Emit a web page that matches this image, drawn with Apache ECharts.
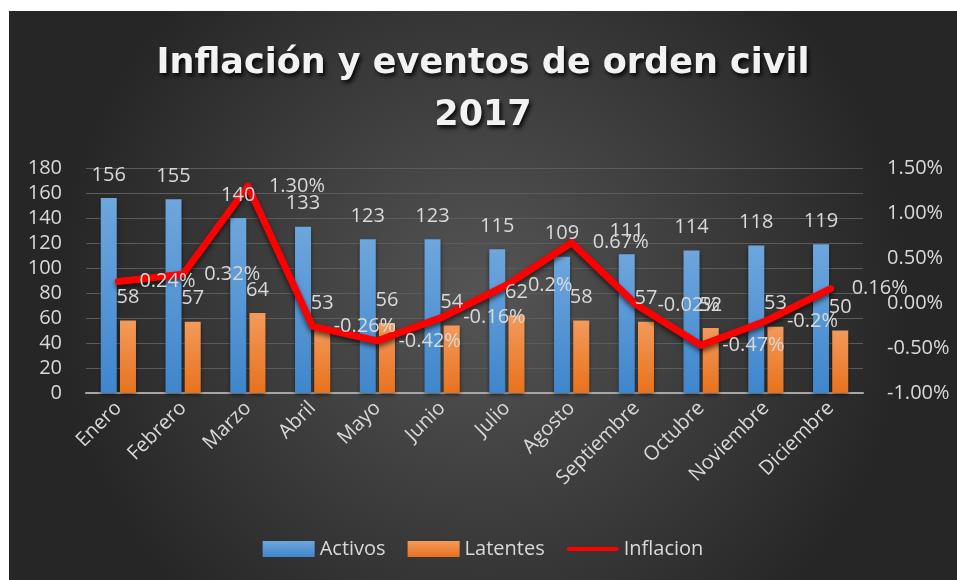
<!DOCTYPE html>
<html>
<head>
<meta charset="utf-8">
<style>
  html, body { margin: 0; padding: 0; background: #ffffff; }
  #chart { position: absolute; left: 9px; top: 11px; width: 948px; height: 569px; }
</style>
<script src="https://cdn.jsdelivr.net/npm/echarts@6/dist/echarts.min.js"></script>
</head>
<body>
<div id="chart"></div>
<script>
// datos
const meses = ['Enero', 'Febrero', 'Marzo', 'Abril', 'Mayo', 'Junio', 'Julio', 'Agosto', 'Septiembre', 'Octubre', 'Noviembre', 'Diciembre'];
const activos = [156, 155, 140, 133, 123, 123, 115, 109, 111, 114, 118, 119];
const latentes = [58, 57, 64, 53, 56, 54, 62, 58, 57, 52, 53, 50];
const inflacion = [0.24, 0.32, 1.30, -0.26, -0.42, -0.16, 0.2, 0.67, -0.02, -0.47, -0.2, 0.16];
const inflacionTexto = ['0.24%', '0.32%', '1.30%', '-0.26%', '-0.42%', '-0.16%', '0.2%', '0.67%', '-0.02%', '-0.47%', '-0.2%', '0.16%'];

const txt = '#d9d9d9';
const font = 'Open Sans';

let chart = echarts.init(document.getElementById('chart'));

const etiquetaBarra = { show: true, position: 'top', distance: 13, color: txt, fontSize: 20, fontFamily: font };

const option = {
    backgroundColor: {
        type: 'radial', x: 0.5, y: 0.5, r: 0.75,
        colorStops: [
            { offset: 0, color: '#555555' },
            { offset: 1, color: '#262626' }
        ]
    },
    title: {
        text: 'Inflación y eventos de orden civil\n2017',
        left: 'center',
        top: 22,
        textStyle: {
            color: '#f2f2f2',
            fontFamily: 'DejaVu Sans',
            fontWeight: 'bold',
            fontSize: 35,
            lineHeight: 52,
            textShadowColor: 'rgba(0,0,0,0.9)',
            textShadowBlur: 4,
            textShadowOffsetX: 2,
            textShadowOffsetY: 3
        }
    },
    legend: {
        bottom: 16,
        left: 'center',
        itemWidth: 52,
        itemHeight: 16,
        itemGap: 22,
        textStyle: { color: txt, fontSize: 20, fontFamily: font },
        data: [
            { name: 'Activos', icon: 'rect' },
            { name: 'Latentes', icon: 'rect' },
            { name: 'Inflacion', icon: 'path://M4,0 L96,0 A4,4 0 0 1 96,8 L4,8 A4,4 0 0 1 4,0 Z', itemStyle: { color: '#ff0000' } }
        ]
    },
    grid: { left: 77, right: 94, top: 157, bottom: 187 },
    xAxis: [
        {
            type: 'category',
            data: meses,
            axisTick: { show: false },
            axisLine: { lineStyle: { color: '#a6a6a6', width: 2 } },
            axisLabel: { color: txt, fontSize: 20, fontFamily: font, rotate: 45, interval: 0, margin: 12 }
        },
        {
            // eje oculto: solo para dibujar las etiquetas de las barras encima de la linea
            type: 'category',
            data: meses,
            show: false
        }
    ],
    yAxis: [
        {
            type: 'value',
            min: 0, max: 180, interval: 20,
            axisLine: { show: false },
            axisTick: { show: false },
            splitLine: { lineStyle: { color: '#5c5c5c', width: 1 } },
            axisLabel: { color: txt, fontSize: 20, fontFamily: font, margin: 24 }
        },
        {
            type: 'value',
            min: -1, max: 1.5, interval: 0.5,
            axisLine: { show: false },
            axisTick: { show: false },
            splitLine: { show: false },
            axisLabel: {
                color: txt, fontSize: 20, fontFamily: font, margin: 24,
                formatter: function (v) { return v.toFixed(2) + '%'; }
            }
        }
    ],
    series: [
        {
            name: 'Activos',
            type: 'bar',
            barWidth: 16,
            barGap: '20%',
            data: activos,
            itemStyle: {
                color: new echarts.graphic.LinearGradient(0, 0, 0, 1, [
                    { offset: 0, color: '#6ea6dd' },
                    { offset: 1, color: '#3f86cc' }
                ]),
                shadowColor: 'rgba(0,0,0,0.5)', shadowBlur: 4, shadowOffsetY: 2
            }
        },
        {
            name: 'Latentes',
            type: 'bar',
            barWidth: 16,
            data: latentes,
            itemStyle: {
                color: new echarts.graphic.LinearGradient(0, 0, 0, 1, [
                    { offset: 0, color: '#f39a5b' },
                    { offset: 1, color: '#e8721d' }
                ]),
                shadowColor: 'rgba(0,0,0,0.5)', shadowBlur: 4, shadowOffsetY: 2
            }
        },
        {
            name: 'Inflacion',
            type: 'line',
            yAxisIndex: 1,
            data: inflacion,
            symbol: 'circle',
            symbolSize: 2,
            lineStyle: {
                color: '#ff0000', width: 7, cap: 'round', join: 'round',
                shadowColor: 'rgba(0,0,0,0.6)', shadowBlur: 5, shadowOffsetY: 3
            },
            itemStyle: { color: '#ff0000' },
            labelLayout: { hideOverlap: false },
            label: {
                show: true, position: 'right', distance: 20,
                color: txt, fontSize: 20, fontFamily: font,
                formatter: function (p) { return inflacionTexto[p.dataIndex]; }
            }
        },
        {
            name: 'Activos etiquetas',
            type: 'bar',
            xAxisIndex: 1,
            barWidth: 16,
            barGap: '20%',
            z: 10,
            silent: true,
            data: activos,
            itemStyle: { color: 'transparent' },
            label: etiquetaBarra
        },
        {
            name: 'Latentes etiquetas',
            type: 'bar',
            xAxisIndex: 1,
            barWidth: 16,
            z: 10,
            silent: true,
            data: latentes,
            itemStyle: { color: 'transparent' },
            label: etiquetaBarra
        }
    ]
};

chart.setOption(option);
</script>
</body>
</html>
